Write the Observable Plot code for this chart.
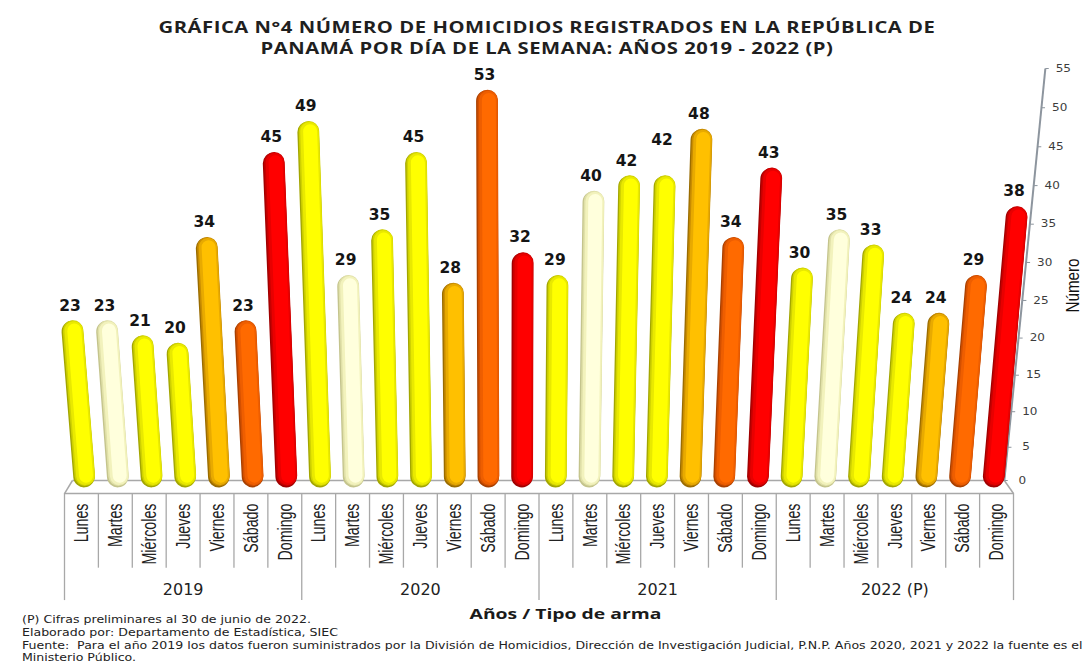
<!DOCTYPE html>
<html lang="es">
<head>
<meta charset="utf-8">
<script src="https://cdn.jsdelivr.net/npm/d3@7"></script>
<script src="https://cdn.jsdelivr.net/npm/@observablehq/plot@0.6"></script>
<style>
  html, body { margin: 0; padding: 0; background: #fff; width: 1084px; height: 665px; overflow: hidden; }
  #title { position: absolute; left: 0; top: 17px; width: 1094px; text-align: center; font: 700 15.8px/21px "Open Sans", sans-serif; color: #1f1f1f; letter-spacing: .42px; transform: scaleX(1.28); transform-origin: 547px 0; }
  #chart { position: absolute; left: 0; top: 58px; }
  #caption { position: absolute; left: 22px; top: 614px; width: 930px; overflow: hidden; font: 11px/12.8px "DejaVu Sans", sans-serif; color: #222; white-space: nowrap; transform: scaleX(1.143); transform-origin: 0 0; }
</style>
</head>
<body>
<div id="title">GRÁFICA N°4 NÚMERO DE HOMICIDIOS REGISTRADOS EN LA REPÚBLICA DE<br>PANAMÁ POR DÍA DE LA SEMANA: AÑOS 2019 - 2022 (P)</div>
<div id="chart"></div>
<div id="caption">(P) Cifras preliminares al 30 de junio de 2022.<br>Elaborado por: Departamento de Estadística, SIEC<br>Fuente:&nbsp; Para el año 2019 los datos fueron suministrados por la División de Homicidios, Dirección de Investigación Judicial, P.N.P. Años 2020, 2021 y 2022 la fuente es el<br>Ministerio Público.</div>
<script>
const years = ["2019", "2020", "2021", "2022 (P)"];
const days = ["Lunes", "Martes", "Miércoles", "Jueves", "Viernes", "Sábado", "Domingo"];
const dayColors = ["#ffff00", "#ffffc8", "#ffff00", "#ffff00", "#ffc000", "#ff6600", "#ff0000"];
const values2019 = [23, 23, 21, 20, 34, 23, 45];
const values2020 = [49, 29, 35, 45, 28, 53, 32];
const values2021 = [29, 40, 42, 42, 48, 34, 43];
const values2022 = [30, 35, 33, 24, 24, 29, 38];
const axisTicks = [0, 5, 10, 15, 20, 25, 30, 35, 40, 45, 50, 55];

const rows = [values2019, values2020, values2021, values2022].flatMap((vals, y) =>
  vals.map((value, d) => ({ year: years[y], day: days[d], color: dayColors[d], value, i: y * 7 + d })));

// The reference is a 3D chart seen in perspective: bars fan out from a centre column.
const centre = 12.65, lean = 0.0013, depth = 0.994, capInset = 2, footValue = 0.8;
const baseX = d => centre + (d.i - centre) * depth;
const topV = d => d.value - capInset;
const topX = d => baseX(d) + (d.i - centre) * lean * topV(d);

// Shading layers that fake the cylinder look: dark at the left edge, bright right of centre
const shadeFor = {
  "#ffff00": ["#a3a600", "#cfd100", "#e9e900", "#ffff00"],
  "#ffffc8": ["#c4c48c", "#e0e0a8", "#f2f2bc", "#ffffdc"],
  "#ffc000": ["#9a6c00", "#c88c00", "#e8aa00", "#ffc000"],
  "#ff6600": ["#a84000", "#d45000", "#ee5e00", "#ff6a00"],
  "#ff0000": ["#a00000", "#c80000", "#e80000", "#ff0000"]
};
const layers = [
  { width: 21.5, k: 0, dx: 0, dy: 1 },
  { width: 20.5, k: 1, dx: 0.8, dy: 0 },
  { width: 18.5, k: 2, dx: 1.4, dy: 0 },
  { width: 14, k: 3, dx: 2, dy: 0 }
];
const barMarks = layers.map(l => Plot.link(rows, {
  x1: baseX, y1: () => footValue, x2: topX, y2: topV,
  stroke: d => shadeFor[d.color][l.k],
  strokeWidth: l.width, strokeLinecap: "round", dx: l.dx, dy: l.dy
}));

const grey = "#a8a8a8";
const floorFront = -2.05, dayLineEnd = -12.6, yearLineEnd = -17;
const floorEdges = [
  { x1: -0.5, y1: floorFront, x2: 27.5, y2: floorFront },
  { x1: -0.265, y1: 0, x2: 27.23, y2: 0 },
  { x1: -0.5, y1: floorFront, x2: -0.265, y2: 0 },
  { x1: 27.5, y1: floorFront, x2: 27.23, y2: 0 }
];
const separators = d3.range(0, 29).map(k => ({ x: k - 0.5, end: k % 7 === 0 ? yearLineEnd : dayLineEnd }));
const axisX = v => 27.23 + 0.022 * v;

const valueLabel = { x: d => topX(d) - 0.07, y: topV, text: d => String(d.value), fontSize: 15.5, fontWeight: 700, fontFamily: "DejaVu Sans", fill: "#151515" };
const isRaised = d => d.year === "2021" && d.day === "Jueves";

const plot = Plot.plot({
  width: 1084, height: 565,
  marginTop: 10, marginBottom: 143, marginLeft: 64, marginRight: 71,
  style: { overflow: "visible", background: "transparent" },
  x: { domain: [-0.5, 27.5], axis: null },
  y: { type: "pow", exponent: 1.05, domain: [0, 55], axis: null },
  marks: [
    Plot.link(floorEdges, { x1: "x1", y1: "y1", x2: "x2", y2: "y2", stroke: grey, strokeWidth: 1.5 }),
    Plot.ruleX(separators, { x: "x", y1: floorFront, y2: "end", stroke: grey, strokeWidth: 1.3 }),
    Plot.link([0], { x1: () => axisX(0), y1: () => 0, x2: () => axisX(55), y2: () => 55, stroke: "#8d959e", strokeWidth: 2 }),
    Plot.link(axisTicks, { x1: axisX, y1: v => v, x2: v => axisX(v) + 0.1, y2: v => v, stroke: "#8d959e", strokeWidth: 1 }),
    Plot.text(axisTicks, { x: axisX, y: v => v, text: v => String(v), dx: 18, fill: "#3c3c3c", fontSize: 10, fontFamily: "DejaVu Sans", className: "wide-ticks" }),
    ...barMarks,
    Plot.text(rows.filter(d => !isRaised(d)), { ...valueLabel, dy: -25 }),
    Plot.text(rows.filter(isRaised), { ...valueLabel, dy: -46 }),
    Plot.text(rows, { x: "i", text: "day", frameAnchor: "bottom", lineAnchor: "middle", dy: 23, rotate: -90, textAnchor: "end", fontSize: 21, fontFamily: "Liberation Sans", fill: "#222", className: "squeezed" }),
    Plot.text(years, { x: (d, k) => 3 + k * 7, text: d => d, frameAnchor: "bottom", lineAnchor: "middle", dy: 109, fontSize: 16, fontFamily: "DejaVu Sans", fill: "#222", letterSpacing: "1.5px" }),
    Plot.text(["Años / Tipo de arma"], { x: () => 14.28, text: d => d, frameAnchor: "bottom", lineAnchor: "middle", dy: 134, fontSize: 15, fontWeight: 700, fontFamily: "Open Sans", fill: "#1a1a1a", letterSpacing: ".5px", className: "wide-label" }),
    Plot.text(["Número"], { text: d => d, frameAnchor: "right", lineAnchor: "middle", textAnchor: "middle", dx: 59, dy: 11, rotate: -90, fontSize: 19, fontFamily: "Liberation Sans", fill: "#111", className: "number-label" })
  ]
});
document.getElementById("chart").appendChild(plot);
const stretch = (cls, sx) => d3.select(plot).selectAll(`.${cls} text`).attr("transform", function () {
  return (this.getAttribute("transform") || "") + ` scale(${sx},1)`;
});
stretch("squeezed", 0.68);
stretch("number-label", 0.8);
stretch("wide-ticks", 1.2);
stretch("wide-label", 1.29);
</script>
</body>
</html>
